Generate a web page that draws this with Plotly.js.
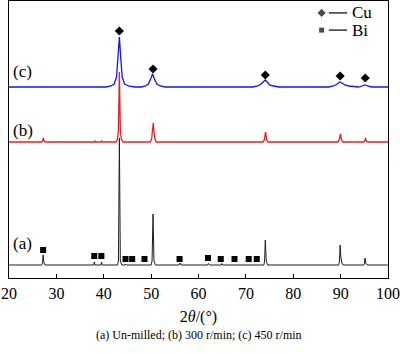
<!DOCTYPE html>
<html>
<head>
<meta charset="utf-8">
<script src="https://cdn.plot.ly/plotly-3.0.1.min.js"></script>
<style>html,body{margin:0;padding:0;background:#fff;}#chart{width:400px;height:354px;}</style>
</head>
<body>
<div id="chart"></div>
<script>
// ---- Data (relative intensity, arbitrary units) ----
const offsetA = 13, offsetB = 136, offsetC = 191;

const xA = [20, 26.9, 27.1, 27.2, 27.35, 27.6, 37.9, 38.0, 38.15, 39.4, 39.55, 39.7, 42.9, 43.1, 43.3, 43.5, 43.8, 44.5, 44.6, 44.8, 50.0, 50.2, 50.4, 50.6, 50.9, 55.9, 56.1, 56.3, 61.9, 62.1, 62.3, 64.8, 64.95, 65.1, 73.8, 73.95, 74.1, 74.3, 74.6, 89.6, 89.75, 89.9, 90.05, 90.2, 90.5, 94.9, 95.05, 95.15, 95.3, 95.6, 100];
const yA = [0, 0, 3, 10, 3, 0, 0, 3, 0, 0, 3, 0, 0, 4, 127, 4, 0, 0, 1, 0, 0, 4, 51, 4, 0, 0, 2, 0, 0, 1.5, 0, 0, 1.5, 0, 0, 4, 25, 4, 0, 0, 4, 20, 8, 3, 0, 0, 2, 7, 2, 0, 0];

const xB = [20, 26.9, 27.1, 27.25, 27.4, 27.7, 38.0, 38.15, 38.3, 39.4, 39.55, 39.7, 42.6, 42.9, 43.1, 43.3, 43.5, 43.7, 44.1, 49.8, 50.1, 50.25, 50.45, 50.65, 50.8, 51.1, 73.6, 73.9, 74.15, 74.4, 74.7, 89.4, 89.7, 89.95, 90.2, 90.5, 94.9, 95.1, 95.25, 95.4, 95.7, 100];
const yB = [0, 0, 1, 4, 1, 0, 0, 1, 0, 0, 1, 0, 0, 3, 12, 70, 12, 3, 0, 0, 3, 8, 19, 8, 3, 0, 0, 2, 10, 2, 0, 0, 2, 8, 2, 0, 0, 1, 4, 1, 0, 0];

const xC = [20, 40.5, 41.5, 42.2, 42.7, 43.0, 43.3, 43.6, 43.9, 44.4, 45.2, 46.5, 48.0, 48.8, 49.4, 49.9, 50.3, 50.7, 51.2, 51.9, 53.0, 71.5, 72.5, 73.2, 73.8, 74.1, 74.5, 75.0, 75.8, 77, 87.5, 88.5, 89.3, 89.8, 90.3, 90.9, 91.7, 93, 93.8, 94.5, 95.1, 95.7, 96.5, 100];
const yC = [0, 0, 1, 3, 10, 28, 50, 28, 10, 3, 1, 0, 0, 1, 3, 8, 13, 8, 3, 1, 0, 0, 1, 3, 6, 7, 5, 2, 1, 0, 0, 1, 3, 5, 4, 2, 1, 0, 0, 1, 2, 1, 0, 0];

// Phase markers: peak positions and marker heights (relative to their pattern)
const cuX = [43.3, 50.4, 74.1, 89.9, 95.2];
const cuH = [56, 18, 12, 11, 9];
const biX = [27.2, 38.0, 39.5, 44.6, 46.0, 48.6, 56.0, 62.0, 64.7, 67.6, 70.6, 72.3];
const biH = [15, 9, 9, 6, 6, 6, 6, 7, 6, 6, 6, 6];

const xTicks = [20, 30, 40, 50, 60, 70, 80, 90, 100];
const sampleLabels = ['(a)', '(b)', '(c)'];
const legendNames = ['Cu', 'Bi'];
const caption = '(a) Un-milled; (b) 300 r/min; (c) 450 r/min';

// ---- Build ----
const shift = (arr, off) => arr.map(v => v + off);
const FONT = 'Liberation Serif';

const traces = [
  {x: xA, y: shift(yA, offsetA), mode: 'lines', line: {color: '#1e1e1e', width: 1}, hoverinfo: 'skip'},
  {x: xB, y: shift(yB, offsetB), mode: 'lines', line: {color: '#e3202a', width: 1.3}, hoverinfo: 'skip'},
  {x: xC, y: shift(yC, offsetC), mode: 'lines', line: {color: '#1414f0', width: 1.3}, hoverinfo: 'skip'},
  {x: cuX, y: shift(cuH, offsetC), mode: 'markers', marker: {symbol: 'diamond', size: 7, color: '#000'}, hoverinfo: 'skip'},
  {x: biX, y: shift(biH, offsetA), mode: 'markers', marker: {symbol: 'square', size: 6, color: '#000'}, hoverinfo: 'skip'},
  // legend symbols on an overlay paper-like axis
  {x: [0.825, 0.825], y: [0.957, 0.895], xaxis: 'x2', yaxis: 'y2', mode: 'markers',
   marker: {symbol: ['diamond', 'square'], size: [7, 6], color: '#000'}, hoverinfo: 'skip'}
];

const labelY = [0.126, 0.534, 0.744];
const annotations = sampleLabels.map((t, i) => ({
  text: t, xref: 'paper', yref: 'paper', x: 0.006, y: labelY[i], xanchor: 'left', yanchor: 'middle',
  showarrow: false, font: {family: FONT, size: 17, color: '#000'}
}));
annotations.push(
  {text: legendNames[0], xref: 'paper', yref: 'paper', x: 0.9, y: 0.957, xanchor: 'left', yanchor: 'middle', showarrow: false, font: {family: FONT, size: 17, color: '#000'}},
  {text: legendNames[1], xref: 'paper', yref: 'paper', x: 0.9, y: 0.895, xanchor: 'left', yanchor: 'middle', showarrow: false, font: {family: FONT, size: 17, color: '#000'}},
  {text: caption, xref: 'paper', yref: 'paper', x: 0.5, y: (278 - 335) / 277, xanchor: 'center', yanchor: 'middle', showarrow: false, font: {family: FONT, size: 12, color: '#000'}}
);

const layout = {
  width: 400, height: 354,
  margin: {l: 9, r: 12, t: 1, b: 76},
  paper_bgcolor: '#fff', plot_bgcolor: '#fff',
  showlegend: false,
  font: {family: FONT, color: '#000'},
  xaxis: {
    range: [20, 100], tickvals: xTicks, ticktext: xTicks.map(String),
    ticks: 'inside', ticklen: 4, tickwidth: 1, tickcolor: '#000',
    showline: true, linecolor: '#000', linewidth: 1.3, mirror: true,
    showgrid: false, zeroline: false,
    tickfont: {family: FONT, size: 16, color: '#000'},
    title: {text: '2<i>θ</i>/(°)', font: {family: FONT, size: 16, color: '#000'}, standoff: 10}
  },
  yaxis: {
    range: [0, 277], showticklabels: false, ticks: '',
    showline: true, linecolor: '#000', linewidth: 1.3, mirror: true,
    showgrid: false, zeroline: false
  },
  xaxis2: {overlaying: 'x', range: [0, 1], visible: false},
  yaxis2: {overlaying: 'y', range: [0, 1], visible: false},
  shapes: [
    {type: 'line', xref: 'paper', yref: 'paper', x0: 0.844, x1: 0.892, y0: 0.957, y1: 0.957, line: {color: '#000', width: 1.2}},
    {type: 'line', xref: 'paper', yref: 'paper', x0: 0.844, x1: 0.892, y0: 0.895, y1: 0.895, line: {color: '#000', width: 1.2}}
  ],
  annotations: annotations
};

Plotly.newPlot('chart', traces, layout, {staticPlot: true, displayModeBar: false});
</script>
</body>
</html>
